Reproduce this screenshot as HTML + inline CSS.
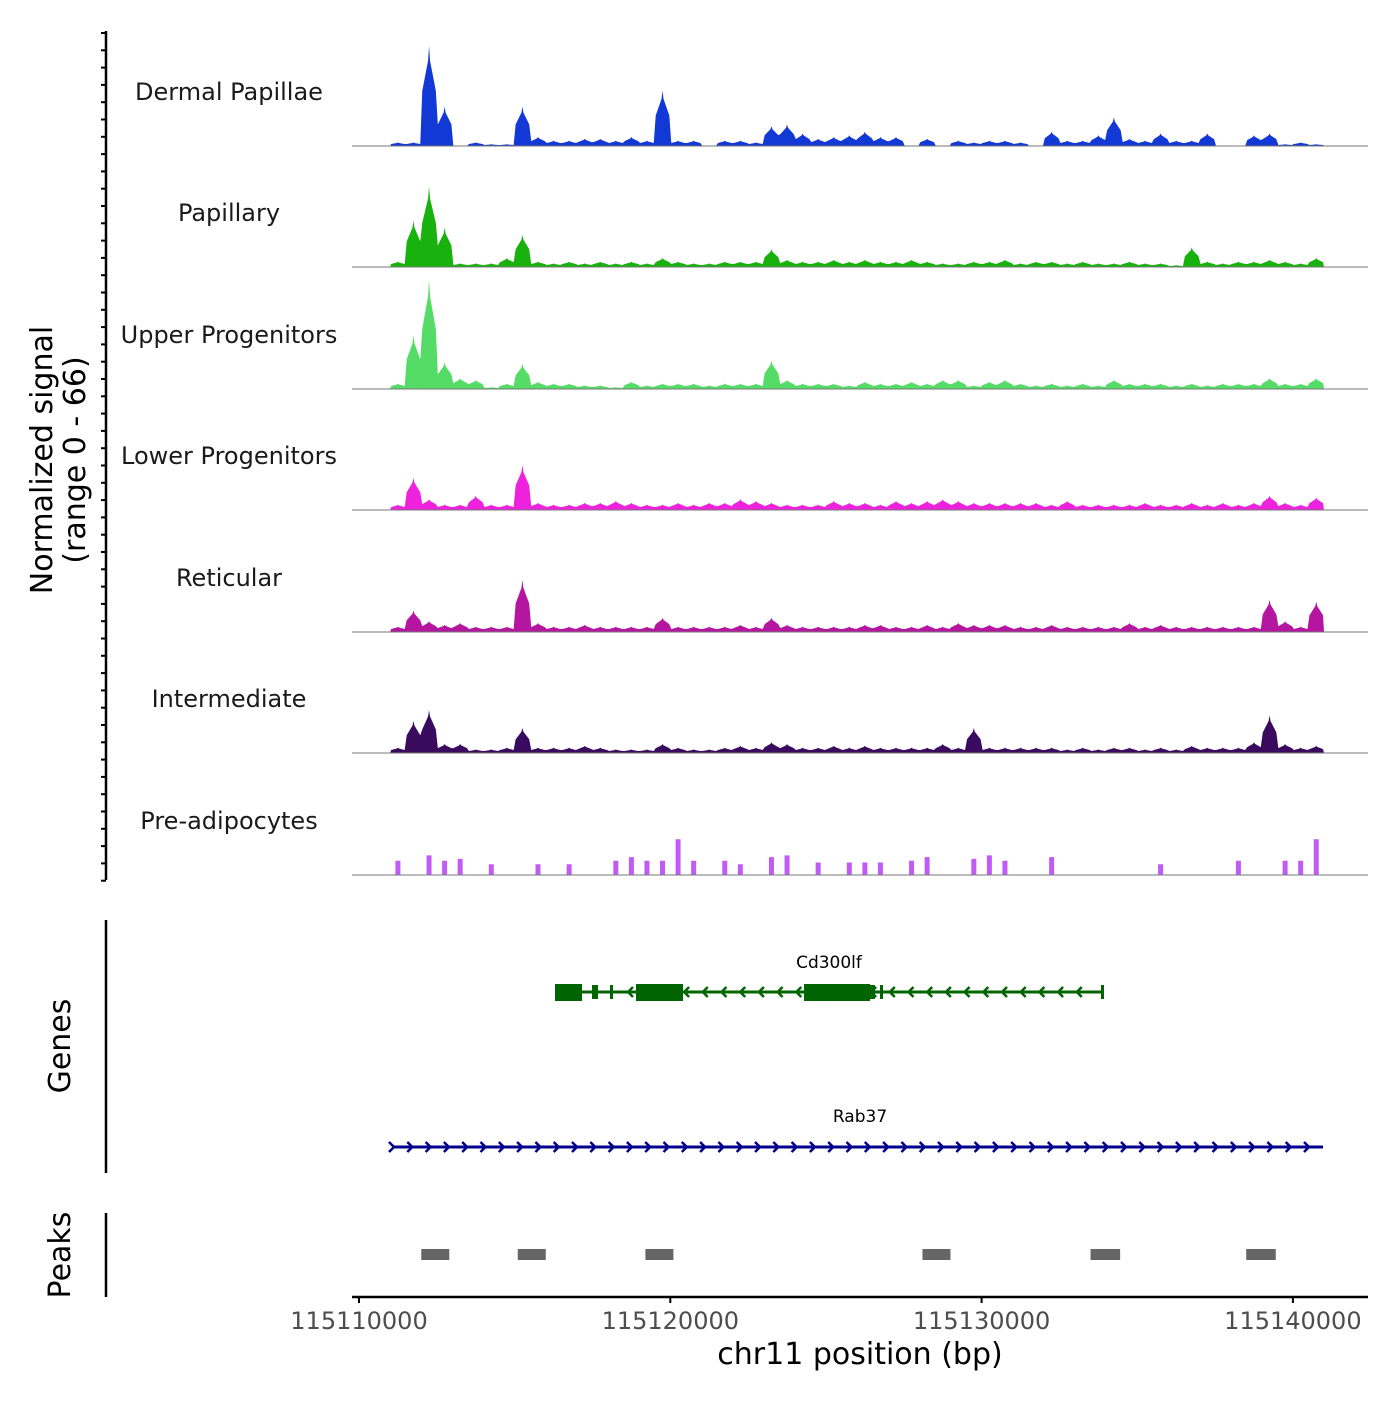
<!DOCTYPE html>
<html><head><meta charset="utf-8"><style>
body{margin:0;background:#fff;}
svg text{font-family:"DejaVu Sans","Liberation Sans",sans-serif;}
</style></head><body>
<svg id="chart" width="1400" height="1400" viewBox="0 0 1400 1400" xmlns="http://www.w3.org/2000/svg">
<g id="tracks"></g>
<g id="axes"></g>
</svg>
<script>
const trackNames=["Dermal Papillae","Papillary","Upper Progenitors","Lower Progenitors","Reticular","Intermediate","Pre-adipocytes"];
const trackColors=["#1238d6","#18b10e","#55dc66","#ee22dd","#b4169f","#3a0a5f","#c05cf5"];
const binStart=115111000, binSize=500;
const dermal=[2,2,56,22,0,2,1,1,22,5,3,3,4,4,3,5,3,31,3,3,0,3,3,2,11,12,7,4,5,6,8,5,5,0,4,0,3,2,3,3,2,0,8,3,3,6,16,4,3,7,3,3,7,0,0,6,7,1,2,1];
const papillary=[3,26,45,22,2,2,2,5,18,3,2,3,2,3,2,3,2,5,3,2,2,3,3,3,10,4,3,3,4,3,4,3,3,4,3,2,2,3,3,4,2,3,3,2,3,2,2,3,2,2,1,11,3,2,3,3,4,3,2,5];
const upper=[3,30,61,15,6,5,1,3,14,4,3,3,2,2,1,4,2,3,3,3,2,3,3,3,16,5,3,3,3,2,4,3,3,4,3,5,5,2,4,5,3,2,3,2,3,2,5,3,3,3,2,3,2,3,3,3,6,3,3,6];
const lower=[3,18,6,3,3,8,3,3,25,4,3,3,4,4,5,4,3,3,4,3,4,4,6,5,4,3,3,3,5,4,4,3,5,4,5,6,5,4,4,4,4,4,3,5,3,3,3,3,4,3,3,4,3,4,3,4,8,4,3,7];
const reticular=[3,12,6,4,5,3,3,3,29,5,3,3,4,3,3,3,3,8,3,3,3,3,4,3,8,4,3,3,3,3,4,4,3,3,4,3,5,4,4,4,3,3,4,3,3,3,3,5,3,4,3,3,3,3,3,3,18,6,3,17];
const intermediate=[3,18,24,5,5,2,2,3,14,3,3,3,4,3,2,2,2,5,3,2,2,3,4,3,6,5,3,3,4,3,4,3,3,3,3,5,3,14,3,3,3,3,3,2,3,2,3,3,2,3,2,4,3,3,3,6,21,5,3,4];
const preadip=[8,0,11,8,9,0,6,0,0,6,0,6,0,0,8,10,8,8,20,8,0,8,6,0,10,11,0,7,0,7,7,7,0,8,10,0,0,9,11,8,0,0,10,0,0,0,0,0,0,6,0,0,0,0,8,0,0,8,8,20];
const series=[dermal,papillary,upper,lower,reticular,intermediate,preadip];
const geneNames=["Cd300lf","Rab37"];
const xTicks=[115110000,115120000,115130000,115140000];
const peakStarts=[115112000,115115100,115119200,115128100,115133500,115138500];
const peakEnds=[115112900,115116000,115120100,115129000,115134450,115139450];

const NS="http://www.w3.org/2000/svg";
function X(bp){return 359+(bp-115110000)*0.03113;}
const baselines=[146,267,389,510,632,753,875];
function Y(v,t){return baselines[t]-v*118/66;}
function mk(tag,attrs,parent){const e=document.createElementNS(NS,tag);for(const k in attrs)e.setAttribute(k,attrs[k]);parent.appendChild(e);return e;}
const tracks=document.getElementById('tracks'), axes=document.getElementById('axes');

series.forEach((vals,t)=>{
  const g=mk('g',{},tracks);
  
  
  let d='M'+X(binStart)+','+baselines[t];
  vals.forEach((v,i)=>{
    const x0=X(binStart+i*binSize), x1=X(binStart+(i+1)*binSize), xm=(x0+x1)/2;
    if(t===6){ d+=' L'+(xm-2.5)+','+baselines[t]+' L'+(xm-2.5)+','+Y(v,t)+' L'+(xm+2.5)+','+Y(v,t)+' L'+(xm+2.5)+','+baselines[t];}
    else{ d+=' L'+(x0+1)+','+Y(v*0.55,t)+' L'+(xm-1)+','+Y(v*0.85,t)+' L'+xm+','+Y(v,t)+' L'+(xm+1)+','+Y(v*0.85,t)+' L'+(x1-1)+','+Y(v*0.55,t);}
  });
  d+=' L'+X(binStart+vals.length*binSize)+','+baselines[t]+' Z';
  const p=mk('path',{d:d,fill:trackColors[t]},g);
  
  
  const bl=mk('line',{x1:352,x2:1368,y1:baselines[t],y2:baselines[t],stroke:'#777','stroke-width':1},g);
  
  
  const lb=mk('text',{x:229,y:baselines[t]-46,'text-anchor':'middle','font-size':24,fill:'#1a1a1a'},g);
  lb.textContent=trackNames[t];
  
  
});

mk('line',{x1:106,x2:106,y1:31,y2:880,stroke:'#000','stroke-width':2.5},axes);
for(let i=0;i<50;i++){const y=33+i*17.3;mk('line',{x1:101,x2:106,y1:y,y2:y,stroke:'#000','stroke-width':2},axes);}
const yt=mk('text',{transform:'translate(52,460) rotate(-90)','text-anchor':'middle','font-size':30,fill:'#000'},axes);

yt.innerHTML='<tspan x="0" dy="0">Normalized signal</tspan><tspan x="0" dy="33">(range 0 - 66)</tspan>';
mk('line',{x1:106,x2:106,y1:920,y2:1173,stroke:'#000','stroke-width':2.5},axes);
const gt=mk('text',{transform:'translate(70,1046) rotate(-90)','text-anchor':'middle','font-size':30,fill:'#000'},axes);
gt.textContent='Genes';
mk('line',{x1:106,x2:106,y1:1213,y2:1297,stroke:'#000','stroke-width':2.5},axes);
const pt=mk('text',{transform:'translate(70,1255) rotate(-90)','text-anchor':'middle','font-size':30,fill:'#000'},axes);
pt.textContent='Peaks';

const gg=mk('g',{},axes);
mk('line',{x1:555,x2:1103,y1:992,y2:992,stroke:'#006400','stroke-width':3},gg);
[[555,582],[636,683],[804,870]].forEach(r=>mk('rect',{x:r[0],y:984,width:r[1]-r[0],height:17,fill:'#006400'},gg));
[[592,598],[610,613],[870,875],[880,883],[1101,1104]].forEach(r=>mk('rect',{x:r[0],y:985,width:r[1]-r[0],height:14,fill:'#006400'},gg));
for(let x=628;x<1095;x+=18.7){if((x>636&&x<683)||(x>804&&x<870))continue;mk('path',{d:`M${x+5},987 L${x},992 L${x+5},997`,fill:'none',stroke:'#006400','stroke-width':2.5},gg);}
const g1=mk('text',{x:829,y:968,'text-anchor':'middle','font-size':17,fill:'#000'},gg);g1.textContent=geneNames[0];
const g2g=mk('g',{},axes);
mk('line',{x1:393,x2:1323,y1:1147,y2:1147,stroke:'#00008b','stroke-width':3},g2g);
for(let x=393;x<1326;x+=18.3){mk('path',{d:`M${x-4},1142 L${x+1},1147 L${x-4},1152`,fill:'none',stroke:'#00008b','stroke-width':2.5},g2g);}
const g2=mk('text',{x:860,y:1122,'text-anchor':'middle','font-size':17,fill:'#000'},g2g);g2.textContent=geneNames[1];

peakStarts.forEach((s,i)=>{const r=mk('rect',{x:X(s),y:1249,width:X(peakEnds[i])-X(s),height:11,fill:'#666'},axes);
});

mk('line',{x1:352,x2:1368,y1:1297,y2:1297,stroke:'#000','stroke-width':2.5},axes);
xTicks.forEach(v=>{mk('line',{x1:X(v),x2:X(v),y1:1297,y2:1303,stroke:'#000','stroke-width':2},axes);
const t=mk('text',{x:X(v),y:1329,'text-anchor':'middle','font-size':24,fill:'#4d4d4d'},axes);t.textContent=v;
});
const xt=mk('text',{x:860,y:1364,'text-anchor':'middle','font-size':30,fill:'#000'},axes);
xt.textContent='chr11 position (bp)';
</script>
</body></html>
